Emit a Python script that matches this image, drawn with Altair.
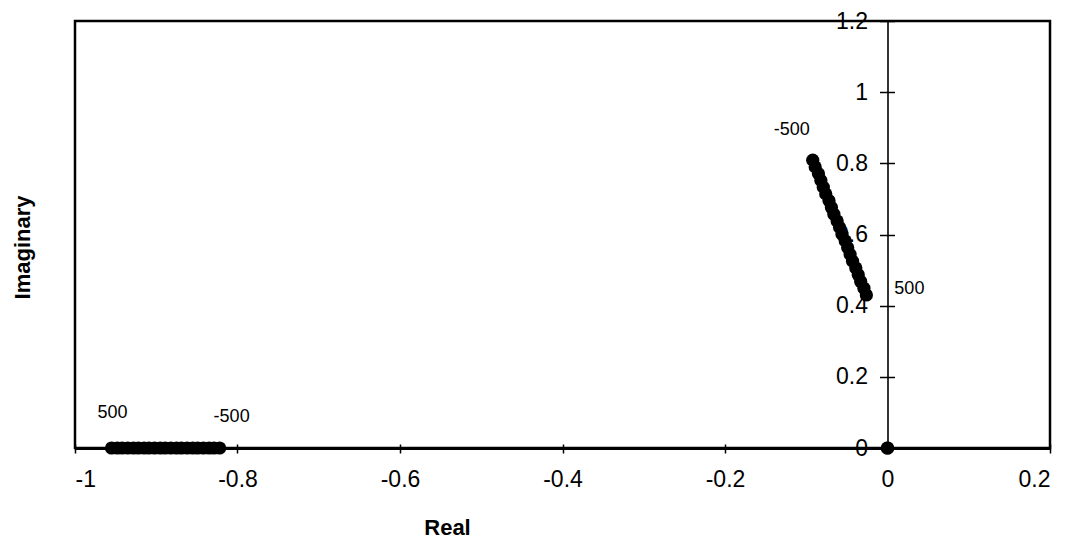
import altair as alt
import pandas as pd

# Root locus of the closed-loop poles as the gain K runs from -500 to 500
gain = [-500, -450, -400, -350, -300, -250, -200, -150, -100, -50, 0,
        50, 100, 150, 200, 250, 300, 350, 400, 450, 500]

# Branch on the real axis
real_branch_re = [-0.822, -0.829, -0.835, -0.842, -0.849, -0.855, -0.862,
                  -0.869, -0.875, -0.882, -0.889, -0.895, -0.902, -0.909,
                  -0.915, -0.922, -0.928, -0.935, -0.942, -0.948, -0.955]
real_branch_im = [0.0] * len(gain)

# Complex branch (upper half plane)
complex_re = [-0.092, -0.089, -0.085, -0.082, -0.079, -0.076, -0.072,
              -0.069, -0.066, -0.062, -0.059, -0.056, -0.052, -0.049,
              -0.046, -0.043, -0.039, -0.036, -0.033, -0.029, -0.026]
complex_im = [0.809, 0.790, 0.771, 0.752, 0.733, 0.714, 0.695,
              0.676, 0.657, 0.638, 0.620, 0.601, 0.582, 0.563,
              0.544, 0.525, 0.506, 0.487, 0.468, 0.449, 0.430]

# Pole fixed at the origin
origin_re = [0.0]
origin_im = [0.0]

x_ticks = [-1, -0.8, -0.6, -0.4, -0.2, 0, 0.2]
y_ticks = [0, 0.2, 0.4, 0.6, 0.8, 1, 1.2]

FONT = "Liberation Sans"
W, H = 975, 427
X_DOM = [-1, 0.2]
Y_DOM = [0, 1.2]
zero_px = W * (0 - X_DOM[0]) / (X_DOM[1] - X_DOM[0])

rows = []
for k, re, im in zip(gain, real_branch_re, real_branch_im):
    rows.append({"K": k, "Real": re, "Imaginary": im})
for k, re, im in zip(gain, complex_re, complex_im):
    rows.append({"K": k, "Real": re, "Imaginary": im})
for re, im in zip(origin_re, origin_im):
    rows.append({"K": None, "Real": re, "Imaginary": im})
poles = pd.DataFrame(rows)

xs = alt.Scale(domain=X_DOM, nice=False, zero=False)
ys = alt.Scale(domain=Y_DOM, nice=False, zero=False)

x_axis = alt.Axis(
    orient="bottom", values=x_ticks, grid=False,
    labelExpr="toString(datum.value)",
    domainColor="black", domainWidth=3,
    tickColor="black", tickWidth=1.5, tickSize=5,
    labelFont=FONT, labelFontSize=23, labelColor="black", labelPadding=15,
    title="Real", titleFont=FONT, titleFontSize=22, titleFontWeight="bold",
    titleColor="black", titleX=372, titleY=79, titleBaseline="middle",
    titleAlign="center",
)
y_axis = alt.Axis(
    orient="left", offset=-zero_px, values=y_ticks, grid=False,
    labelExpr="toString(datum.value)",
    domainColor="black", domainWidth=1.6,
    tickColor="black", tickWidth=1.5, tickSize=8,
    labelFont=FONT, labelFontSize=23, labelColor="black", labelPadding=12,
    labelBaseline="middle",
    title="Imaginary", titleFont=FONT, titleFontSize=22, titleFontWeight="bold",
    titleColor="black", titleAngle=-90, titleX=22 - (75 + zero_px), titleY=226,
    titleAlign="center", titleBaseline="middle",
)

points = alt.Chart(poles).mark_circle(size=175, color="black", opacity=1).encode(
    x=alt.X("Real:Q", scale=xs, axis=x_axis),
    y=alt.Y("Imaginary:Q", scale=ys, axis=y_axis),
)

# Tick marks on the opposite side so that ticks cross both axes
cross_ticks = alt.Chart(pd.DataFrame({"Real": origin_re, "Imaginary": origin_im})).mark_circle(
    size=175, color="black", opacity=1
).encode(
    x=alt.X("Real:Q", scale=xs, axis=alt.Axis(
        orient="top", offset=-H, values=x_ticks, grid=False, labels=False,
        domain=False, tickColor="black", tickWidth=1.5, tickSize=4, title=None)),
    y=alt.Y("Imaginary:Q", scale=ys, axis=alt.Axis(
        orient="right", offset=-(W - zero_px), values=y_ticks, grid=False,
        labels=False, domain=False, tickColor="black", tickWidth=1.5,
        tickSize=7, title=None)),
)

# Gain annotations at the ends of each branch: (text, real, imag, dx, dy)
labels = [
    ("500", real_branch_re[-1], real_branch_im[-1], 1, -35),
    ("-500", real_branch_re[0], real_branch_im[0], 12, -31),
    ("-500", complex_re[0], complex_im[0], -21, -30),
    ("500", complex_re[-1], complex_im[-1], 43, -6),
]
label_layers = []
for text, re, im, dx, dy in labels:
    label_layers.append(
        alt.Chart(pd.DataFrame({"Real": [re], "Imaginary": [im], "t": [text]}))
        .mark_text(font=FONT, fontSize=18, color="black", dx=dx, dy=dy,
                   align="center", baseline="middle")
        .encode(x=alt.X("Real:Q", scale=xs, axis=None),
                y=alt.Y("Imaginary:Q", scale=ys, axis=None),
                text="t:N")
    )

chart = (
    alt.layer(points, cross_ticks, *label_layers)
    .resolve_axis(x="independent", y="independent")
    .properties(
        width=W, height=H,
        autosize=alt.AutoSizeParams(type="none"),
        padding={"left": 75, "top": 21, "right": 23, "bottom": 100},
        background="white",
    )
    .configure_view(stroke="black", strokeWidth=2.5)
)

chart.save("out.html", embed_options={"renderer": "svg", "actions": False})
